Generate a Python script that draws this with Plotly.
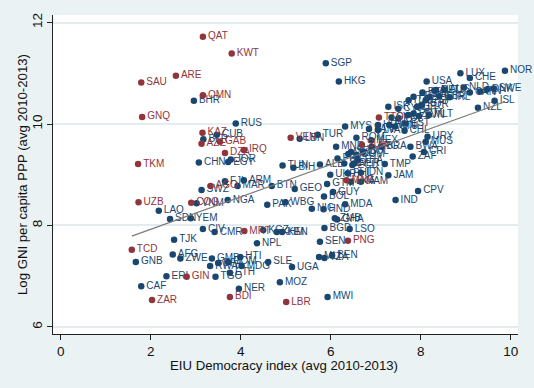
import plotly.graph_objects as go

# ---- Data ----
# Resource-dependent countries (maroon)
res_codes = ["QAT", "KWT", "ARE", "SAU", "OMN", "GNQ", "KAZ", "AZE", "GAB", "DZA",
             "IRQ", "TKM", "VEN", "TTO", "AGO", "UZB", "COG", "MRT", "TCD", "GIN",
             "ZAR", "BDI", "LBR", "PNG", "SUR", "MNG"]
res_dem = [3.16, 3.80, 2.56, 1.79, 3.16, 1.81, 3.15, 3.13, 3.54, 3.65,
           4.07, 1.72, 5.11, 7.07, 3.33, 1.73, 2.90, 4.08, 1.58, 2.80,
           2.03, 3.76, 5.01, 6.38, 6.69, 6.35]
res_gni = [11.72, 11.39, 10.95, 10.82, 10.57, 10.14, 9.83, 9.61, 9.65, 9.43,
           9.49, 9.21, 9.73, 10.13, 8.78, 8.46, 8.45, 7.89, 7.52, 6.99,
           6.53, 6.59, 6.49, 7.70, 9.59, 8.89]

# Other countries (navy)
oth_codes = ["BHR", "RUS", "CUB", "BLR", "CHN", "EGY", "JOR", "FJI", "ARM", "MAR",
             "BTN", "SWZ", "NGA", "VNM", "LAO", "SDN", "YEM", "CIV", "CMR", "KGZ",
             "KHM", "KEN", "NPL", "TJK", "AFG", "GNB", "ZWE", "GMB", "RWA", "BFA",
             "COM", "ETH", "HTI", "MDG", "ERI", "CAF", "TGO", "NER", "SLE", "UGA",
             "MOZ", "MWI", "SEN", "MLI", "TZA", "BEN", "BGD", "LSO", "ZMB", "GHA",
             "MDA", "NIC", "HND", "IND", "CPV", "JAM", "TMP", "ZAF", "BWA", "CRI",
             "URY", "MUS", "BRA", "PAK", "WBG", "GEO", "TUN", "BIH", "ALB", "LBN",
             "TUR", "MYS", "SGP", "HKG", "MNE", "BOL", "GUY", "GTM", "ROM", "MEX",
             "SRB", "MKD", "DOM", "COL", "ARG", "PRY", "SLV", "ECU", "THA", "PER",
             "IDN", "PHL", "UKR", "LKA", "NAM", "PAN", "HRV", "HUN", "LVA", "LTU",
             "EST", "CHL", "SVK", "POL", "CYP", "ISR", "ITA", "FRA", "BEL", "JPN",
             "DEU", "AUS", "GBR", "IRL", "NLD", "CAN", "FIN", "DNK", "SWE", "NOR",
             "LUX", "CHE", "USA", "ISL", "NZL", "KOR", "PRT", "CZE", "SVN", "MLT",
             "ESP", "GRC", "AUT"]
oth_dem = [2.96, 3.89, 3.47, 3.17, 3.07, 3.72, 3.78, 3.65, 4.07, 3.93,
           4.69, 3.13, 3.71, 3.02, 2.18, 2.43, 2.89, 3.16, 3.42, 4.50,
           4.80, 4.92, 4.36, 2.52, 2.49, 1.67, 2.66, 3.36, 3.32, 3.50,
           3.72, 3.76, 3.99, 4.02, 2.35, 1.79, 3.44, 3.96, 4.61, 5.14,
           4.87, 5.93, 5.76, 5.74, 5.86, 6.03, 5.86, 6.42, 6.09, 6.14,
           6.32, 5.58, 5.84, 7.44, 7.94, 7.28, 7.20, 7.82, 7.77, 8.07,
           8.15, 8.11, 7.12, 4.59, 4.99, 5.20, 4.93, 5.17, 5.76, 5.31,
           5.71, 6.32, 5.89, 6.18, 6.12, 5.85, 6.05, 5.92, 6.57, 6.90,
           6.45, 6.39, 6.57, 6.72, 6.91, 6.15, 6.30, 6.48, 6.60, 6.52,
           6.67, 6.38, 5.99, 6.45, 6.67, 6.85, 7.05, 7.30, 7.05, 7.43,
           7.66, 7.64, 7.35, 7.50, 7.50, 7.28, 7.73, 7.84, 8.04, 8.19,
           8.34, 8.52, 8.41, 8.64, 8.96, 9.09, 9.32, 9.47, 9.62, 9.87,
           8.88, 9.09, 8.13, 9.64, 9.27, 8.03, 7.84, 7.72, 7.96, 8.18,
           8.11, 7.92, 8.30]
oth_gni = [10.46, 10.01, 9.79, 9.70, 9.24, 9.25, 9.30, 8.87, 8.89, 8.78,
           8.78, 8.70, 8.50, 8.44, 8.29, 8.13, 8.14, 7.93, 7.87, 7.91,
           7.87, 7.87, 7.65, 7.72, 7.43, 7.28, 7.35, 7.35, 7.20, 7.26,
           7.28, 7.07, 7.38, 7.20, 7.00, 6.80, 6.99, 6.75, 7.28, 7.18,
           6.88, 6.59, 7.68, 7.38, 7.36, 7.41, 7.95, 7.93, 8.14, 8.12,
           8.42, 8.33, 8.32, 8.50, 8.68, 8.99, 9.21, 9.36, 9.55, 9.45,
           9.75, 9.65, 9.55, 8.41, 8.46, 8.72, 9.18, 9.14, 9.20, 9.71,
           9.79, 9.95, 11.20, 10.84, 9.55, 8.57, 8.66, 8.82, 9.73, 9.68,
           9.45, 9.41, 9.39, 9.45, 9.55, 9.32, 9.22, 9.19, 9.29, 9.22,
           9.04, 9.03, 9.00, 8.86, 8.86, 9.90, 9.98, 9.98, 9.88, 9.95,
           10.01, 9.87, 10.13, 10.11, 10.30, 10.34, 10.47, 10.54, 10.62, 10.53,
           10.67, 10.68, 10.55, 10.53, 10.72, 10.62, 10.64, 10.68, 10.70, 11.05,
           11.00, 10.91, 10.84, 10.46, 10.32, 10.38, 10.21, 10.18, 10.16, 10.18,
           10.47, 10.34, 10.66]

# Fitted (linear) line endpoints
fit_dem = [1.58, 9.87]
fit_gni = [7.79, 10.44]

x_ticks = [0, 2, 4, 6, 8, 10]
y_ticks = [6, 8, 10, 12]

NAVY = "#1A476F"
MAROON = "#90353B"
FONT = "Liberation Sans, Arial, sans-serif"

fig = go.Figure()
fig.add_trace(go.Scatter(
    x=oth_dem, y=oth_gni, text=oth_codes, mode="markers+text",
    textposition="middle right",
    marker=dict(color=NAVY, size=6.5),
    textfont=dict(color=NAVY, size=10, family=FONT),
    cliponaxis=False, showlegend=False))
fig.add_trace(go.Scatter(
    x=res_dem, y=res_gni, text=res_codes, mode="markers+text",
    textposition="middle right",
    marker=dict(color=MAROON, size=6.5),
    textfont=dict(color=MAROON, size=10, family=FONT),
    cliponaxis=False, showlegend=False))
fig.add_trace(go.Scatter(
    x=fit_dem, y=fit_gni, mode="lines", line=dict(color="#7a7a7a", width=1.2),
    showlegend=False, hoverinfo="skip"))

L, R, T, B = 53, 16, 15, 54
plot_w = 534 - L - R
plot_h = 388 - T - B

fig.update_layout(
    width=534, height=388,
    paper_bgcolor="#EAF2F3", plot_bgcolor="white",
    margin=dict(l=L, r=R, t=T, b=B, autoexpand=False),
    font=dict(family=FONT, size=13, color="#111"),
    xaxis=dict(
        range=[-0.17, 10.16], tickvals=x_ticks, showgrid=False, zeroline=False,
        showline=True, linecolor="#222", linewidth=1, automargin=False,
        ticks="outside", ticklen=5, tickcolor="#222",
        tickfont=dict(size=13.5)),
    yaxis=dict(
        range=[5.86, 12.15], tickvals=y_ticks, showgrid=True, gridcolor="#E3EDEF",
        gridwidth=1.5, zeroline=False, automargin=False,
        showline=True, linecolor="#222", linewidth=1,
        ticks="outside", ticklen=5, tickcolor="#222", tickangle=-90,
        tickfont=dict(size=13.5)),
    annotations=[
        dict(text="EIU Democracy index (avg 2010-2013)", xref="paper", yref="paper",
             x=(284 - L) / plot_w, y=(T + plot_h - 365) / plot_h,
             xanchor="center", yanchor="middle", showarrow=False,
             font=dict(size=13.2, family=FONT, color="#111")),
        dict(text="Log GNI per capita PPP (avg 2010-2013)", xref="paper", yref="paper",
             x=(23 - L) / plot_w, y=(T + plot_h - 175) / plot_h, textangle=-90,
             xanchor="center", yanchor="middle", showarrow=False,
             font=dict(size=13.2, family=FONT, color="#111")),
    ],
)

fig.write_html(
    "out.html",
    config={"displayModeBar": False},
    post_script="document.body.style.margin='0';document.body.style.padding='0';"
                "document.body.style.background='#EAF2F3';",
)
